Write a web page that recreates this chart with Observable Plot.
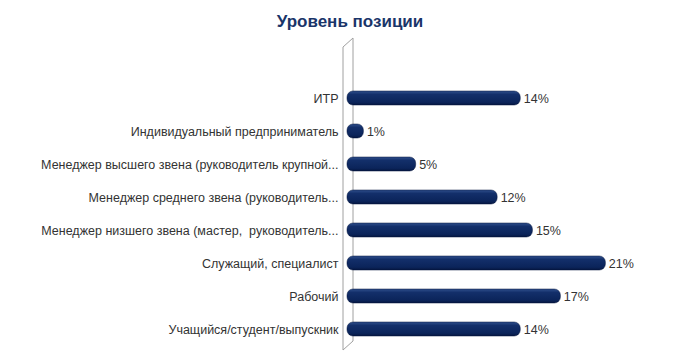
<!DOCTYPE html>
<html><head><meta charset="utf-8">
<script src="https://cdn.jsdelivr.net/npm/d3@7"></script>
<script src="https://cdn.jsdelivr.net/npm/@observablehq/plot@0.6"></script>
<style>
body{margin:0;background:#fff;}
#wrap{position:relative;width:700px;height:360px;}
#title{position:absolute;left:0;top:12px;width:700px;text-align:center;font-family:"Liberation Sans",Arial,sans-serif;font-weight:bold;font-size:17px;color:#1a3569;}
</style></head>
<body>
<div id="wrap"><div id="chart"></div><div id="title">Уровень позиции</div></div>
<script>
const categories = [
  "ИТР",
  "Индивидуальный предприниматель",
  "Менеджер высшего звена (руководитель крупной...",
  "Менеджер среднего звена (руководитель...",
  "Менеджер низшего звена (мастер,  руководитель...",
  "Служащий, специалист",
  "Рабочий",
  "Учащийся/студент/выпускник"
];
const values = [14.0, 1.1, 5.4, 12.1, 15.0, 21.0, 17.3, 14.0];
const valueLabels = ["14%", "1%", "5%", "12%", "15%", "21%", "17%", "14%"];

const data = categories.map((c, i) => ({cat: c, v: values[i], lab: valueLabels[i]}));

function wall(index, scales, values, dims) {
  const ns = "http://www.w3.org/2000/svg";
  const g = document.createElementNS(ns, "g");
  const x0 = scales.x(0) - 4;
  const yTop = 38, yBot = 350, d = 10, dy = 9;
  const p = document.createElementNS(ns, "path");
  p.setAttribute("d", `M${x0},${yTop + dy}L${x0 + d},${yTop}L${x0 + d},${yBot - dy}L${x0},${yBot}Z`);
  p.setAttribute("fill", "#fff");
  p.setAttribute("stroke", "#a0a0a0");
  p.setAttribute("stroke-width", 1);
  g.appendChild(p);
  return g;
}

const plot = Plot.plot({
  width: 700,
  height: 360,
  marginTop: 78,
  marginBottom: 11,
  marginLeft: 347,
  marginRight: 49,
  x: {domain: [0, 25], axis: null},
  y: {domain: categories, paddingInner: 0.58, paddingOuter: 0.29, axis: null},
  style: {fontFamily: "'Liberation Sans', Arial, sans-serif", fontSize: "12.5px", color: "#333"},
  marks: [
    wall,
    Plot.barX(data, {y: "cat", x: "v", fill: "url(#barGrad)", rx: 6, insetRight: -3, stroke: "#06173f", strokeWidth: 0.5}),
    Plot.text(data, {y: "cat", x: 0, text: "cat", textAnchor: "end", dx: -9, fill: "#333", fontSize: 12.5}),
    Plot.text(data, {y: "cat", x: "v", text: "lab", textAnchor: "start", dx: 6, fill: "#333", fontSize: 12.5})
  ]
});

const svg = d3.select(plot);
const defs = svg.insert("defs", ":first-child");
const grad = defs.append("linearGradient").attr("id", "barGrad").attr("x1", 0).attr("y1", 0).attr("x2", 0).attr("y2", 1);
grad.append("stop").attr("offset", "0%").attr("stop-color", "#2f4f8c");
grad.append("stop").attr("offset", "25%").attr("stop-color", "#132f6a");
grad.append("stop").attr("offset", "80%").attr("stop-color", "#0b245a");
grad.append("stop").attr("offset", "100%").attr("stop-color", "#051640");
document.getElementById("chart").appendChild(plot);
</script>
</body></html>
